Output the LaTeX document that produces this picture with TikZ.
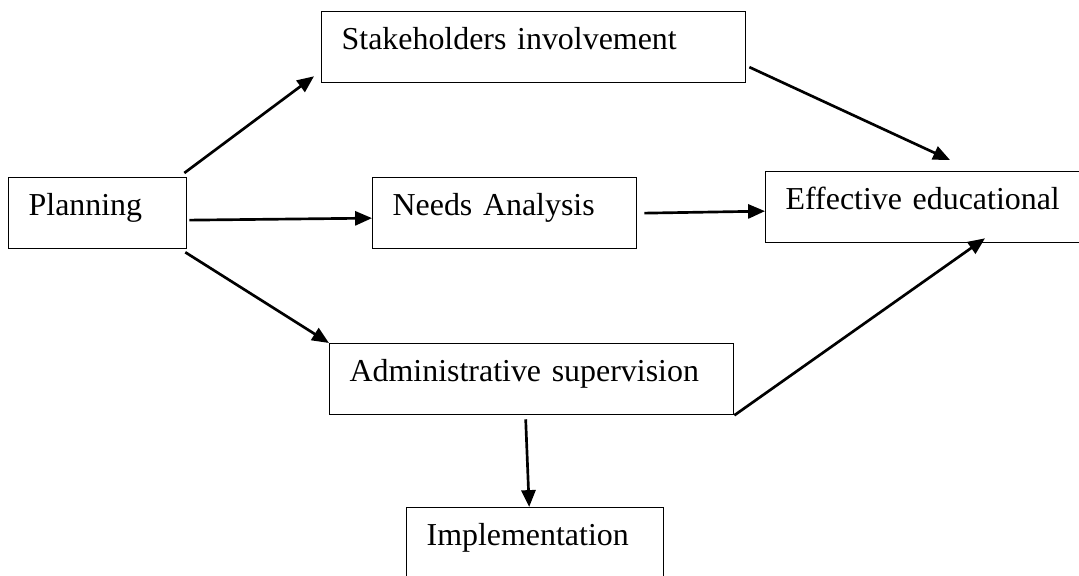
\documentclass[tikz,border=0pt]{standalone}
\usepackage{fontspec}
\setmainfont{Liberation Serif}
\usetikzlibrary{calc,arrows.meta}

\tikzset{
    box/.style={draw, line width=0.9pt, anchor=north west, align=left,
        inner xsep=0.5cm, inner ysep=0.275cm,
        text height=0.675cm, text depth=0.55cm,
        font=\fontsize{22.7pt}{27pt}\selectfont},
    link/.style={line width=1.9pt, -{Triangle[length=12pt,width=10pt]}}
}

\begin{document}
\begin{tikzpicture}[x=0.025cm, y=-0.025cm]

    % --- page ---
    \useasboundingbox (0,0) rectangle (1079,576);
    \clip (0,0) rectangle (1079,576);

    % --- Dobozok ---
    \node[box, text width=3.45cm] (plan) at (8,177) {Planning};
    \node[box, text width=9.6cm] (stake) at (321,11) {Stakeholders involvement};
    \node[box, text width=5.6cm] (needs) at (372,177) {Needs Analysis};
    \node[box, text width=9.1cm] (admin) at (329,343) {Administrative supervision};
    \node[box, text width=7.5cm] (eff) at (765,171) {Effective educational};
    \node[box, text width=5.425cm] (impl) at (406,507) {Implementation};

    % --- Nyilak ---
    \draw[link] ($(plan.north east)+(-3,-4)$) -- ($(stake.south west)+(-7,-7)$);
    \draw[link] ($(plan.east)+(2,7)$) -- ($(needs.west)+(0,5)$);
    \draw[link] ($(plan.south east)+(-2,3)$) -- (admin.north west);

    \draw[link] ($(stake.east)+(3,20)$) -- ($(eff.north west)+(185,-11)$);
    \draw[link] ($(needs.east)+(7,0)$) -- ($(eff.west)+(0,4)$);
    \draw[link] (admin.south east) -- ($(eff.south west)+(220,-5)$);

    \draw[link] ($(admin.south)+(-6,4)$) -- ($(impl.north)+(-6,0)$);

\end{tikzpicture}
\end{document}
